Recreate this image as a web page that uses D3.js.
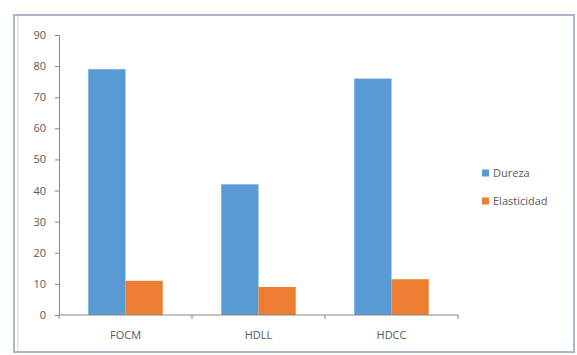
<!DOCTYPE html>
<html>
<head>
<meta charset="utf-8">
<script src="https://cdn.jsdelivr.net/npm/d3@7"></script>
<style>
  html, body { margin: 0; padding: 0; background: #fff; }
  svg { display: block; }
  text { font-family: "Open Sans", "Liberation Sans", sans-serif; fill: #595959; }
</style>
</head>
<body>
<svg id="chart" width="577" height="355"></svg>
<script>
// Chart data
const categories = ["FOCM", "HDLL", "HDCC"];
const seriesNames = ["Dureza", "Elasticidad"];
const dureza = [79, 42, 76];
const elasticidad = [11, 9, 11.5];
const yTicks = [0, 10, 20, 30, 40, 50, 60, 70, 80, 90];
const colors = ["#5b9bd5", "#ed7d31"];

const svg = d3.select("#chart");

// Chart frame
svg.append("rect")
  .attr("x", 14).attr("y", 15).attr("width", 560).attr("height", 337)
  .attr("fill", "#fff").attr("stroke", "#aab6c8").attr("stroke-width", 2);
svg.append("line")
  .attr("x1", 18).attr("x2", 18).attr("y1", 16).attr("y2", 351)
  .attr("stroke", "#c9d2df").attr("stroke-width", 1);

const plot = { left: 59, right: 458, top: 35, bottom: 315 };

const x = d3.scaleBand().domain(categories)
  .range([plot.left, plot.right]).paddingInner(0.44).paddingOuter(0.22);
const xSub = d3.scaleBand().domain(seriesNames).range([0, x.bandwidth()]);
const y = d3.scaleLinear().domain([0, 90]).range([plot.bottom, plot.top]);

const rows = categories.map((c, i) => ({ cat: c, values: [dureza[i], elasticidad[i]] }));

// Bars
const groups = svg.append("g").selectAll("g").data(rows).join("g")
  .attr("transform", d => `translate(${x(d.cat)},0)`);
groups.selectAll("rect")
  .data(d => d.values.map((v, k) => ({ name: seriesNames[k], v, k })))
  .join("rect")
  .attr("x", d => xSub(d.name))
  .attr("width", xSub.bandwidth())
  .attr("y", d => y(d.v))
  .attr("height", d => y(0) - y(d.v))
  .attr("fill", d => colors[d.k]);

// Y axis
const yAxis = svg.append("g")
  .attr("transform", `translate(${plot.left},0)`)
  .call(d3.axisLeft(y).tickValues(yTicks).tickSize(4).tickPadding(9));
yAxis.select(".domain").attr("stroke", "#868686");
yAxis.selectAll(".tick line").attr("stroke", "#868686");
yAxis.selectAll(".tick text").attr("font-size", 11).style("fill", "#595959");

// X axis with tick marks at category boundaries
const xAxisG = svg.append("g").attr("transform", `translate(0,${plot.bottom})`);
xAxisG.append("line")
  .attr("x1", plot.left).attr("x2", plot.right)
  .attr("stroke", "#868686");
const step = (plot.right - plot.left) / categories.length;
xAxisG.selectAll("line.tk").data(d3.range(categories.length + 1)).join("line")
  .attr("class", "tk")
  .attr("x1", i => plot.left + i * step).attr("x2", i => plot.left + i * step)
  .attr("y1", 0).attr("y2", 4).attr("stroke", "#868686");
xAxisG.selectAll("text").data(categories).join("text")
  .attr("x", d => x(d) + x.bandwidth() / 2)
  .attr("y", 24)
  .attr("text-anchor", "middle")
  .attr("font-size", 11)
  .text(d => d);

// Legend
const legend = svg.append("g").attr("transform", "translate(482,0)");
const ly = [173, 201];
seriesNames.forEach((name, k) => {
  legend.append("rect")
    .attr("x", 0).attr("y", ly[k] - 3.5).attr("width", 7).attr("height", 7)
    .attr("fill", colors[k]);
  legend.append("text")
    .attr("x", 11).attr("y", ly[k] + 4)
    .attr("font-size", 11)
    .text(name);
});
</script>
</body>
</html>
